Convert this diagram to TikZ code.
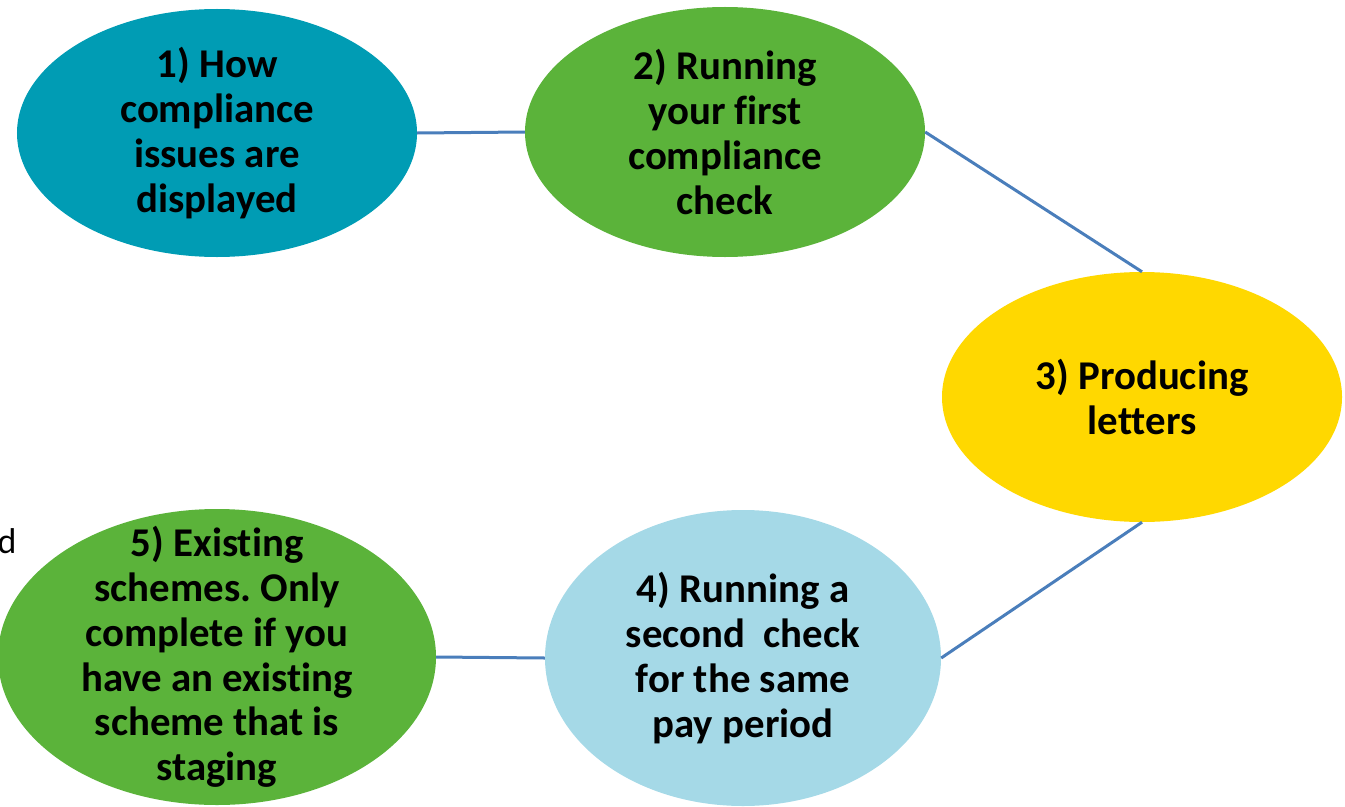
\documentclass[tikz,border=0pt]{standalone}
\usepackage{fontspec}
\setmainfont{Carlito}[Ligatures=NoCommon]
\usetikzlibrary{shapes.geometric,positioning}
\frenchspacing

\definecolor{stepteal}{HTML}{009CB4}
\definecolor{stepgreen}{HTML}{5BB33A}
\definecolor{stepyellow}{HTML}{FFD800}
\definecolor{steplight}{HTML}{A5D9E7}
\definecolor{linkblue}{HTML}{4A7EBB}

\tikzstyle{stage}=[ellipse,inner sep=-40bp,text=black,align=center,
                font=\fontsize{41}{45}\selectfont\bfseries]
\tikzstyle{link}=[draw=linkblue,line width=3bp]

\begin{document}
\begin{tikzpicture}[x=1bp,y=-1bp]
        \useasboundingbox (0,0) rectangle (1345,806);
        % the five steps
        \node [stage,fill=stepteal,minimum width=400bp,minimum height=248bp] (display) at (217,133)
              {1) How\\compliance\\issues are\\displayed};
        \node [stage,fill=stepgreen,minimum width=400bp,minimum height=250bp] (firstcheck) at (725,132)
              {2) Running\\your first\\compliance\\check};
        \node [stage,fill=stepyellow,minimum width=400bp,minimum height=250bp] (letters) at (1142,397)
              {3) Producing\\letters};
        \node [stage,fill=steplight,minimum width=396bp,minimum height=296bp] (secondcheck) at (743,658)
              {4) Running a\\second\ \ check\\for the same\\pay period};
        \node [stage,fill=stepgreen,minimum width=438bp,minimum height=296bp] (existing) at (217,657)
              {5) Existing\\schemes. Only\\complete if you\\have an existing\\scheme that is\\staging};
        \node [anchor=base east,font=\fontsize{36}{40}\selectfont] (stray) at (20,553) {d};
        % links
        \draw [link] (display.east) -- (firstcheck.west);
        \draw [link] (firstcheck.east) -- (letters.north);
        \draw [link] (letters.south) -- (secondcheck.east);
        \draw [link] (existing.east) -- (secondcheck.west);
\end{tikzpicture}
\end{document}
